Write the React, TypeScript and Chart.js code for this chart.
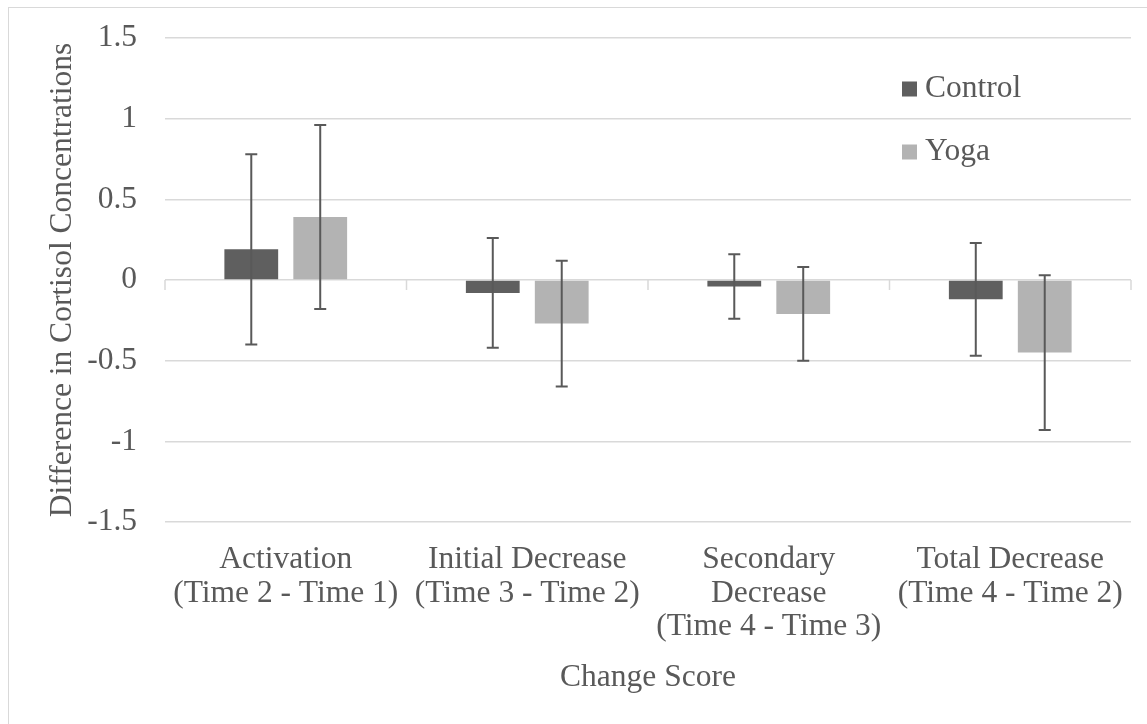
import React, { useEffect, useRef } from "react";
import { Chart, registerables } from "chart.js";

Chart.register(...registerables);

const categories: string[][] = [
  ["Activation", "(Time 2 - Time 1)"],
  ["Initial Decrease", "(Time 3 - Time 2)"],
  ["Secondary", "Decrease", "(Time 4 - Time 3)"],
  ["Total Decrease", "(Time 4 - Time 2)"],
];
const seriesNames = ["Control", "Yoga"];
const controlValues = [0.19, -0.08, -0.04, -0.12];
const controlErrors = [0.59, 0.34, 0.2, 0.35];
const yogaValues = [0.39, -0.27, -0.21, -0.45];
const yogaErrors = [0.57, 0.39, 0.29, 0.48];
const yTickValues = [1.5, 1, 0.5, 0, -0.5, -1, -1.5];
const yTickLabels = ["1.5", "1", "0.5", "0", "-0.5", "-1", "-1.5"];
const yTitle = "Difference in Cortisol Concentrations";
const xTitle = "Change Score";

const FONT = "'Liberation Serif', 'Times New Roman', serif";
const TEXT = "#595959";
const GRID = "#d9d9d9";
const FS = 31.5;

const errorBarPlugin = {
  id: "errorBars",
  afterDatasetsDraw(chart: any) {
    const { ctx } = chart;
    const yScale = chart.scales.y;
    chart.data.datasets.forEach((ds: any, di: number) => {
      const meta = chart.getDatasetMeta(di);
      meta.data.forEach((bar: any, i: number) => {
        const v = ds.data[i];
        const e = ds.errors[i];
        const x = bar.x;
        const yTop = yScale.getPixelForValue(v + e);
        const yBot = yScale.getPixelForValue(v - e);
        ctx.save();
        ctx.strokeStyle = "#595959";
        ctx.lineWidth = 2;
        ctx.beginPath();
        ctx.moveTo(x, yTop);
        ctx.lineTo(x, yBot);
        ctx.moveTo(x - 6, yTop);
        ctx.lineTo(x + 6, yTop);
        ctx.moveTo(x - 6, yBot);
        ctx.lineTo(x + 6, yBot);
        ctx.stroke();
        ctx.restore();
      });
    });
  },
};

const zeroTicksPlugin = {
  id: "zeroTicks",
  afterDatasetsDraw(chart: any) {
    const { ctx, chartArea } = chart;
    const y0 = chart.scales.y.getPixelForValue(0);
    const n = chart.data.labels.length;
    const w = (chartArea.right - chartArea.left) / n;
    ctx.save();
    ctx.strokeStyle = GRID;
    ctx.lineWidth = 1.5;
    ctx.beginPath();
    for (let i = 0; i <= n; i++) {
      const x = chartArea.left + i * w;
      ctx.moveTo(x, y0);
      ctx.lineTo(x, y0 + 10);
    }
    ctx.stroke();
    ctx.restore();
  },
};

const legendPlugin = {
  id: "innerLegend",
  afterDraw(chart: any) {
    const { ctx, chartArea } = chart;
    const x0 = chartArea.right - 229;
    const rowY = [chartArea.top + 51, chartArea.top + 114];
    ctx.save();
    ctx.font = `${FS}px ${FONT}`;
    ctx.textBaseline = "middle";
    ctx.textAlign = "left";
    chart.data.datasets.forEach((ds: any, i: number) => {
      const cy = rowY[i];
      ctx.fillStyle = ds.backgroundColor;
      ctx.fillRect(x0, cy - 7.5, 15, 15);
      ctx.fillStyle = TEXT;
      ctx.fillText(ds.label, x0 + 23, cy);
    });
    ctx.restore();
  },
};

export default function App() {
  const ref = useRef<HTMLCanvasElement | null>(null);

  useEffect(() => {
    if (!ref.current) return;
    const chart = new Chart(ref.current, {
      type: "bar",
      data: {
        labels: categories,
        datasets: [
          {
            label: seriesNames[0],
            data: controlValues,
            errors: controlErrors,
            backgroundColor: "#5f5f5f",
            borderWidth: 0,
            categoryPercentage: 0.571,
            barPercentage: 0.78,
          } as any,
          {
            label: seriesNames[1],
            data: yogaValues,
            errors: yogaErrors,
            backgroundColor: "#b3b3b3",
            borderWidth: 0,
            categoryPercentage: 0.571,
            barPercentage: 0.78,
          } as any,
        ],
      },
      options: {
        animation: false,
        responsive: false,
        maintainAspectRatio: false,
        layout: { padding: { top: 30, right: 16, left: 0, bottom: 0 } },
        plugins: {
          legend: { display: false },
          tooltip: { enabled: false },
        },
        scales: {
          x: {
            grid: { display: false, drawTicks: true, tickLength: 21 },
            border: { display: false },
            ticks: {
              padding: 0,
              color: TEXT,
              maxRotation: 0,
              autoSkip: false,
              font: { family: FONT, size: FS, lineHeight: 1.065 },
            },
            title: {
              display: true,
              text: xTitle,
              color: TEXT,
              font: { family: FONT, size: FS, lineHeight: 1.2 },
              padding: { top: 0, bottom: 27.7 },
            },
            afterFit(scale: any) {
              scale.height = 202;
            },
          },
          y: {
            min: -1.5,
            max: 1.5,
            afterBuildTicks(scale: any) {
              scale.ticks = yTickValues.map((v) => ({ value: v }));
            },
            grid: {
              color: GRID,
              lineWidth: 1.5,
              drawTicks: true,
              tickLength: 28,
              tickColor: "rgba(0,0,0,0)",
            },
            border: { display: false },
            ticks: {
              padding: 0,
              color: TEXT,
              font: { family: FONT, size: FS },
              callback: (v: any) => {
                const idx = yTickValues.indexOf(Number(v));
                return idx >= 0 ? yTickLabels[idx] : String(v);
              },
            },
            title: {
              display: true,
              text: yTitle,
              color: TEXT,
              font: { family: FONT, size: FS, lineHeight: 1.2 },
              padding: { top: 34.5, bottom: 0 },
            },
            afterFit(scale: any) {
              scale.width = 156;
            },
          },
        },
      } as any,
      plugins: [zeroTicksPlugin, errorBarPlugin, legendPlugin],
    });
    return () => chart.destroy();
  }, []);

  return (
    <div
      style={{
        position: "fixed",
        left: 8,
        top: 7,
        width: 1139,
        height: 717,
        boxSizing: "border-box",
        borderLeft: `1px solid ${GRID}`,
        borderTop: `1px solid ${GRID}`,
        background: "#fff",
      }}
    >
      <canvas ref={ref} width={1138} height={716} style={{ display: "block", width: 1138, height: 716 }} />
    </div>
  );
}
